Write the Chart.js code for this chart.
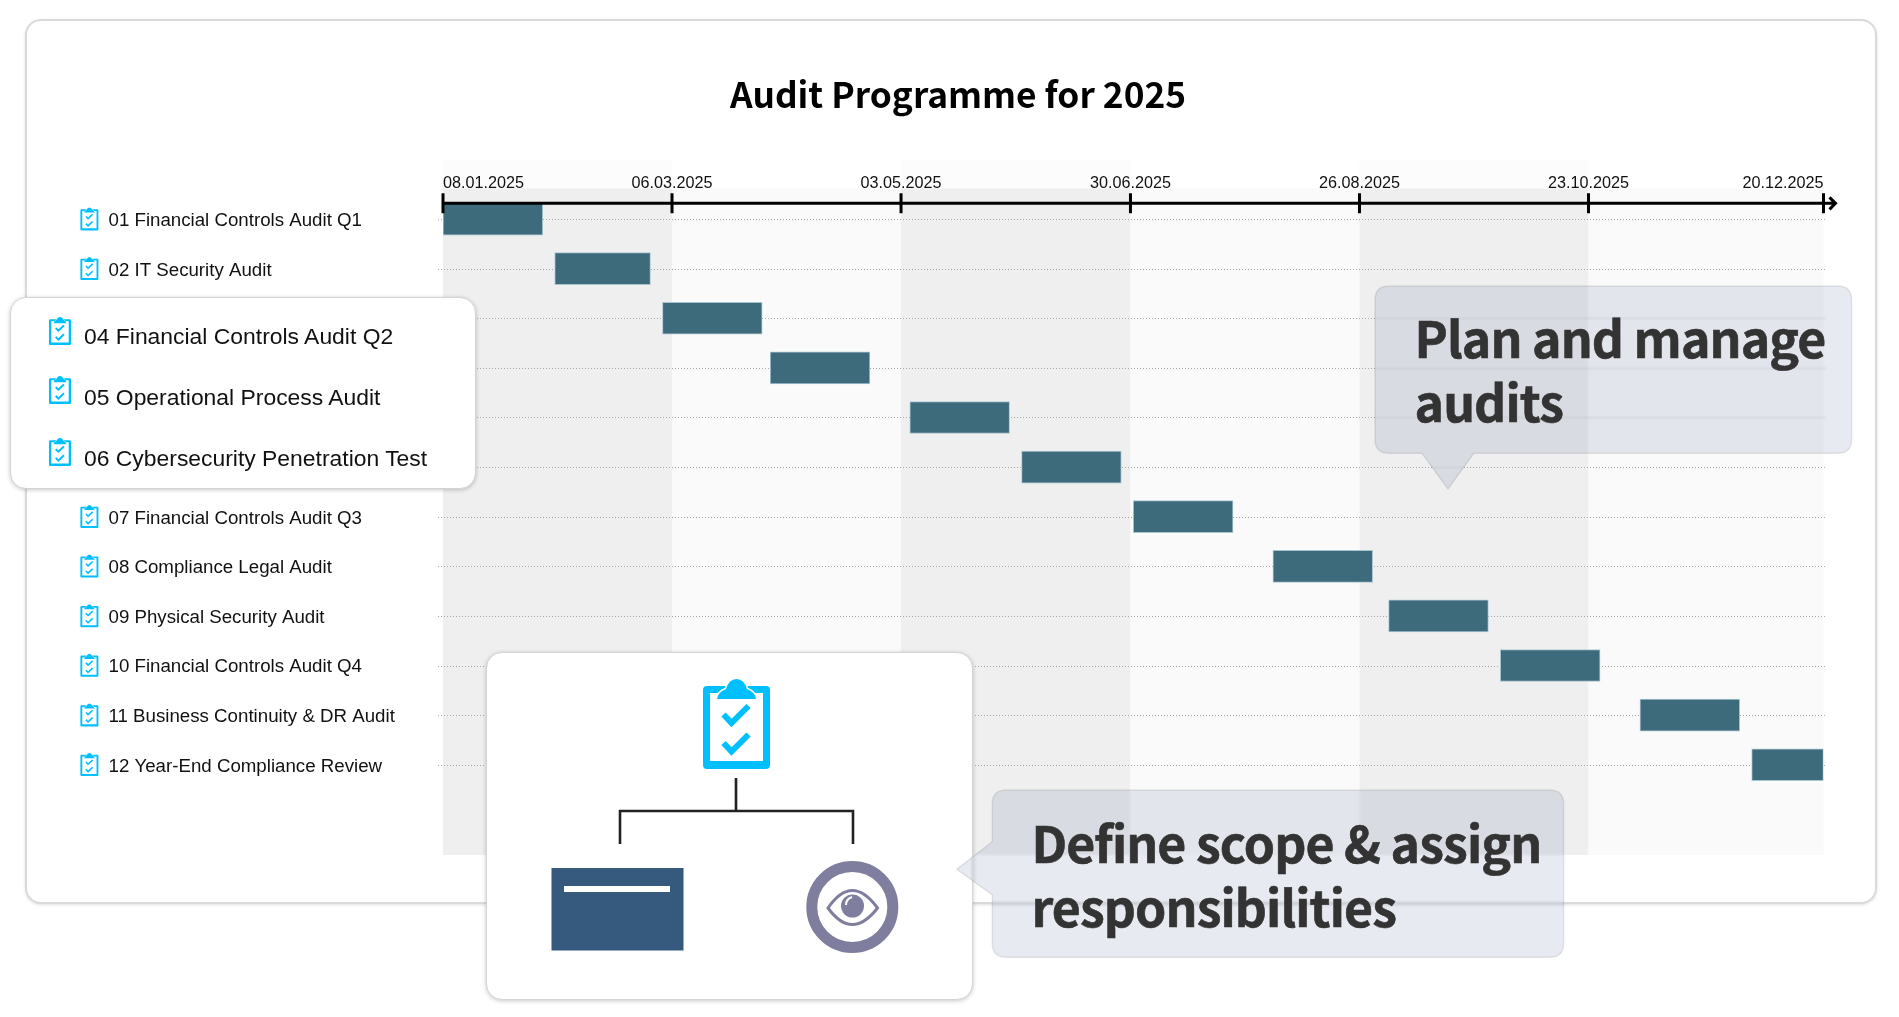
<!DOCTYPE html>
<html>
<head>
<meta charset="utf-8">
<title>Audit Programme for 2025</title>
<script src="https://cdn.jsdelivr.net/npm/chart.js@4/dist/chart.umd.min.js"></script>
<style>
  html, body { margin: 0; padding: 0; background: #fff; width: 1899px; height: 1017px; overflow: hidden; }
  body { position: relative; font-family: "Liberation Sans", Arial, sans-serif; color: #111; }
  .card { position: absolute; left: 25px; top: 19px; width: 1848px; height: 881px; border: 2px solid #dadada; border-radius: 16px; background: #fff; box-shadow: 0 1px 3px rgba(0,0,0,.12); }
  #chart { position: absolute; left: 20px; top: 0; }
  .panel { position: absolute; background: #fff; border-radius: 16px; border: 1px solid #d4d4d4; box-sizing: border-box; box-shadow: 0 1px 4px rgba(0,0,0,.22); }
  #listPanel { left: 10px; top: 297px; width: 466px; height: 192px; }
  #treePanel { left: 486px; top: 652px; width: 487px; height: 348px; }
  .rowText { position: absolute; left: 84px; font-size: 22.9px; line-height: 30px; white-space: nowrap; color: #111; }
  .rowIcon { position: absolute; left: 49px; width: 22px; height: 28px; }
  svg.layer { position: absolute; left: 0; top: 0; width: 1899px; height: 1017px; overflow: visible; pointer-events: none; }
  .glass { position: absolute; left: 0; top: 0; width: 1899px; height: 1017px; background: rgba(35,65,115,.11); backdrop-filter: blur(1px); }
  .bubbleText { position: absolute; font-family: "Noto Sans CJK SC", sans-serif; font-weight: 700; font-size: 50px; letter-spacing: -0.9px; -webkit-text-stroke: 0.6px #333; line-height: 64px; color: #333; white-space: nowrap; }
</style>
</head>
<body>
<div class="card"></div>
<canvas id="chart" width="1876" height="1017"></canvas>

<div class="panel" id="listPanel"></div>
<div class="rowIcon" data-icon style="top:317px"></div>
<div class="rowIcon" data-icon style="top:376px"></div>
<div class="rowIcon" data-icon style="top:438px"></div>
<div class="rowText" style="top:321px">04 Financial Controls Audit Q2</div>
<div class="rowText" style="top:382px">05 Operational Process Audit</div>
<div class="rowText" style="top:443px">06 Cybersecurity Penetration Test</div>

<div class="panel" id="treePanel"></div>
<div data-icon style="position:absolute;left:703px;top:679px;width:67px;height:90px"></div>
<svg class="layer">
  <path d="M736 778V811M620 844V811H853V844" fill="none" stroke="#222" stroke-width="2.6"/>
  <rect x="551.5" y="868" width="132" height="82.5" fill="#355a7d"/>
  <rect x="564" y="886" width="106" height="6" fill="#fff"/>
  <circle cx="852.3" cy="907" r="40.5" fill="#fff" stroke="#7f7e9f" stroke-width="11"/>
  <path d="M828 908Q852 873 877.5 908Q852 941 828 908Z" fill="#fff" stroke="#7f7e9f" stroke-width="3"/>
  <circle cx="852.5" cy="906" r="11.5" fill="#7f7e9f"/>
  <path d="M846 905Q846 899 852 897" fill="none" stroke="#fff" stroke-width="2"/>
</svg>

<div class="glass" id="glassA"></div>
<div class="glass" id="glassB"></div>
<svg class="layer">
  <path id="edgeA" fill="none" stroke="rgba(0,0,0,.09)" stroke-width="1.5"/>
  <path id="edgeB" fill="none" stroke="rgba(0,0,0,.09)" stroke-width="1.5"/>
</svg>
<div class="bubbleText" style="left:1414.5px;top:304px">Plan and manage<br>audits</div>
<div class="bubbleText" style="left:1031.5px;top:809px">Define scope &amp; assign<br>responsibilities</div>

<script>
// rows top to bottom. row 03's name sits behind the white panel in the reference, so only its number is known
var rowLabels = ['01 Financial Controls Audit Q1', '02 IT Security Audit', '03', '04 Financial Controls Audit Q2',
  '05 Operational Process Audit', '06 Cybersecurity Penetration Test', '07 Financial Controls Audit Q3',
  '08 Compliance Legal Audit', '09 Physical Security Audit', '10 Financial Controls Audit Q4',
  '11 Business Continuity & DR Audit', '12 Year-End Compliance Review'];
var startDates = ['08.01.2025', '05.02.2025', '04.03.2025', '31.03.2025', '05.05.2025', '02.06.2025',
  '30.06.2025', '04.08.2025', '02.09.2025', '30.09.2025', '04.11.2025', '02.12.2025'];
var endDates = ['02.02.2025', '01.03.2025', '29.03.2025', '25.04.2025', '30.05.2025', '27.06.2025',
  '25.07.2025', '29.08.2025', '27.09.2025', '25.10.2025', '29.11.2025', '20.12.2025'];
var tickLabels = ['08.01.2025', '06.03.2025', '03.05.2025', '30.06.2025', '26.08.2025', '23.10.2025', '20.12.2025'];
// where each tick sits, in days after the first one (the labels are rounded to whole days)
var tickOffsets = [0, 57.4, 114.8, 172.3, 229.7, 287.1, 346];
var chartTitle = 'Audit Programme for 2025';

function dayNumber(s) {
  var p = s.split('.');
  return Date.UTC(+p[2], +p[1] - 1, +p[0]) / 86400000;
}
var firstDay = dayNumber(tickLabels[0]);
var tickDays = tickOffsets.map(function(o) { return firstDay + o; });

// clipboard icon, drawn in a 67x90 box
var clipBody = 'M4 7H63Q67 7 67 11V86Q67 90 63 90H4Q0 90 0 86V11Q0 7 4 7ZM7 14V82H60V14Z';
var clipDome = 'M14 20Q15 13 23 10Q26 0 33.5 0Q41 0 44 10Q52 13 53 20Z';
var clipChecks = 'M20.5 35.5L28.5 44L45.5 27M20.5 64L28.5 72.5L45.5 55.5';

document.querySelectorAll('[data-icon]').forEach(function(el) {
  el.innerHTML = '<svg viewBox="0 0 67 90" width="100%" height="100%" preserveAspectRatio="none" style="display:block">' +
    '<path d="' + clipBody + '" fill="#00bfff" fill-rule="evenodd"/>' +
    '<path d="' + clipDome + '" fill="#00bfff" stroke="#fff" stroke-width="3" paint-order="stroke"/>' +
    '<path d="' + clipChecks + '" fill="none" stroke="#00bfff" stroke-width="6"/></svg>';
});

var bubbleA = 'M1389 286H1837.6Q1851.6 286 1851.6 300V439.3Q1851.6 453.3 1837.6 453.3H1473.8L1448 489L1422 453.3H1389Q1375 453.3 1375 439.3V300Q1375 286 1389 286Z';
var bubbleB = 'M1006.3 790H1549.6Q1563.6 790 1563.6 804V943.3Q1563.6 957.3 1549.6 957.3H1006.3Q992.3 957.3 992.3 943.3V895L956.8 869.3L992.3 841.7V804Q992.3 790 1006.3 790Z';
document.getElementById('glassA').style.clipPath = 'path("' + bubbleA + '")';
document.getElementById('glassB').style.clipPath = 'path("' + bubbleB + '")';
document.getElementById('edgeA').setAttribute('d', bubbleA);
document.getElementById('edgeB').setAttribute('d', bubbleB);

// column bands and dotted row lines under the axis labels and bars
var ganttBack = {
  id: 'ganttBack',
  afterLayout: function(chart) {
    // the uneven side padding pulls the title right of the card centre
    chart.titleBlock.left -= 8;
    chart.titleBlock.right -= 8;
  },
  beforeDraw: function(chart) {
    var c = chart.ctx, a = chart.chartArea, x = chart.scales.x, y = chart.scales.y;
    c.save();
    for (var i = 0; i < tickDays.length - 1; i++) {
      var x0 = x.getPixelForValue(tickDays[i]), x1 = x.getPixelForValue(tickDays[i + 1]);
      if (i % 2 == 0) {
        c.fillStyle = '#fcfcfc';
        c.fillRect(x0, a.top - 43, x1 - x0, 28);
      }
      c.fillStyle = i % 2 == 0 ? '#efefef' : '#fafafa';
      c.fillRect(x0, a.top - 15, x1 - x0, a.bottom - a.top + 15);
    }
    c.strokeStyle = '#a8a8a8';
    c.lineWidth = 1;
    c.setLineDash([1, 2]);
    rowLabels.forEach(function(label, i) {
      var py = Math.round(y.getPixelForValue(i)) + 0.5;
      c.beginPath();
      c.moveTo(a.left - 5, py);
      c.lineTo(a.right + 3, py);
      c.stroke();
    });
    c.restore();
  }
};

// the time axis (line, ticks through it, arrow) and the row icons
var ganttFront = {
  id: 'ganttFront',
  afterDatasetsDraw: function(chart) {
    var c = chart.ctx, a = chart.chartArea, x = chart.scales.x, y = chart.scales.y;
    c.save();
    c.strokeStyle = '#000';
    c.lineWidth = 3;
    c.beginPath();
    c.moveTo(a.left, a.top);
    c.lineTo(a.right + 12, a.top);
    tickDays.forEach(function(d) {
      var px = x.getPixelForValue(d);
      c.moveTo(px, a.top - 10);
      c.lineTo(px, a.top + 10);
    });
    c.moveTo(a.right + 6, a.top - 6);
    c.lineTo(a.right + 12, a.top);
    c.lineTo(a.right + 6, a.top + 6);
    c.stroke();
    c.restore();

    var body = new Path2D(clipBody), dome = new Path2D(clipDome), checks = new Path2D(clipChecks);
    rowLabels.forEach(function(label, i) {
      c.save();
      c.translate(60.4, y.getPixelForValue(i) - 11.7);
      c.scale(18 / 67, 23 / 90);
      c.fillStyle = '#00bfff';
      c.fill(body, 'evenodd');
      c.strokeStyle = '#fff';
      c.lineWidth = 3;
      c.stroke(dome);
      c.fill(dome);
      c.strokeStyle = '#00bfff';
      c.lineWidth = 6;
      c.stroke(checks);
      c.restore();
    });
  }
};

new Chart(document.getElementById('chart'), {
  type: 'bar',
  data: {
    datasets: [{
      data: rowLabels.map(function(label, i) {
        return { y: i, x: [dayNumber(startDates[i]), dayNumber(endDates[i])] };
      }),
      backgroundColor: '#3e6b7c',
      borderColor: '#a9c5d1',
      borderWidth: 1,
      borderSkipped: false,
      barThickness: 32
    }]
  },
  plugins: [ganttBack, ganttFront],
  options: {
    indexAxis: 'y',
    responsive: false,
    animation: false,
    layout: { padding: { left: 88.5, right: 72.5, top: 73.4, bottom: 162 } },
    plugins: {
      legend: { display: false },
      tooltip: { enabled: false },
      title: {
        display: true,
        text: chartTitle,
        color: '#000',
        padding: 0,
        font: { family: '"Noto Sans CJK SC"', weight: 'bold', size: 35.3, lineHeight: 1.2 }
      }
    },
    scales: {
      x: {
        type: 'linear',
        position: 'top',
        bounds: 'data',
        min: tickDays[0],
        max: tickDays[tickDays.length - 1],
        grid: { display: false, drawTicks: false },
        border: { display: false },
        afterBuildTicks: function(scale) {
          scale.ticks = tickDays.map(function(d) { return { value: d }; });
        },
        afterFit: function(scale) { scale.height = 87.6; },
        ticks: {
          align: 'inner',
          autoSkip: false,
          maxRotation: 0,
          padding: 10.5,
          color: '#111',
          font: { family: '"Liberation Sans"', size: 16.2 },
          callback: function(v, i) { return tickLabels[i]; }
        }
      },
      y: {
        type: 'linear',
        reverse: true,
        bounds: 'data',
        offset: false,
        min: -0.317,
        max: 12.82,
        grid: { display: false, drawTicks: false },
        border: { display: false },
        afterBuildTicks: function(scale) {
          scale.ticks = rowLabels.map(function(label, i) { return { value: i }; });
        },
        afterFit: function(scale) { scale.width = 334.5; },
        ticks: {
          crossAlign: 'far',
          autoSkip: false,
          padding: 0,
          labelOffset: 1.7,
          color: '#111',
          font: { family: '"Liberation Sans"', size: 18.7 },
          callback: function(v) { return rowLabels[v]; }
        }
      }
    }
  }
});
</script>
</body>
</html>
